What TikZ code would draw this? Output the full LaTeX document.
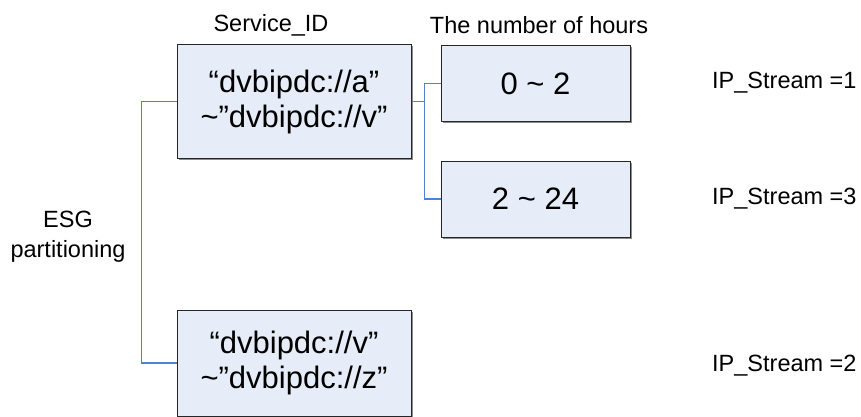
\documentclass[tikz,border=0pt]{standalone}
\usepackage{fontspec}
\setmainfont{Liberation Sans}
\usetikzlibrary{positioning,shadows}
\definecolor{boxfill}{RGB}{230,237,248}
\definecolor{linkblue}{RGB}{80,130,210}

\begin{document}
\begin{tikzpicture}[
        x=1pt, y=-1pt, % one unit per pixel, y going down
        link/.style={draw=linkblue, line width=1.2pt}, % connector style
        idbox/.style={rectangle, draw=black!85, line width=1pt, fill=boxfill, minimum width=234pt, align=center,
            font=\fontsize{31}{35}\selectfont,
            drop shadow={shadow xshift=1.5pt, shadow yshift=-1.5pt, fill=black!45, opacity=1}}, % id box style
        hourbox/.style={idbox, minimum width=189pt}, % hours box style
        txt/.style={inner sep=0pt, font=\fontsize{23.5}{30}\selectfont, align=center} % text style
    ]
        \useasboundingbox (0,0) rectangle (861,417);

        % Column headings
        \node (svchead) [txt] at (271,25) {Service\_ID};
        \node (hourhead) [txt] at (539,25) {The number of hours};

        % Service id boxes
        \node (idone) [idbox, minimum height=113pt] at (294,101.5) {“dvbipdc://a”\\\textasciitilde”dvbipdc://v”};
        \node (idtwo) [idbox, minimum height=106pt] at (294,363) {“dvbipdc://v”\\\textasciitilde”dvbipdc://z”};

        % Hour boxes
        \node (hrone) [hourbox, minimum height=75pt] at (535.5,83.5) {0 \textasciitilde{} 2};
        \node (hrtwo) [hourbox, minimum height=76pt] at (535.5,199) {2 \textasciitilde{} 24};

        % Partition label
        \node (esg) [txt] at (68,237) {ESG\\partitioning};

        % Stream labels
        \node (ipone) [txt, anchor=west] at (712,83) {IP\_Stream =1};
        \node (ipthree) [txt, anchor=west] at (712,199) {IP\_Stream =3};
        \node (iptwo) [txt, anchor=west] at (712,366) {IP\_Stream =2};

        % Connect the ESG split
        \draw [link] (idone.west) -- ++(-35,0) coordinate (esgbus) |- (idtwo.west);

        % Connect the hours split
        \draw [link] (idone.east) -- ++(13,0) coordinate (hrbus);
        \draw [link] (hrone.west) -| (hrbus) |- (hrtwo.west);

    \end{tikzpicture}
\end{document}
